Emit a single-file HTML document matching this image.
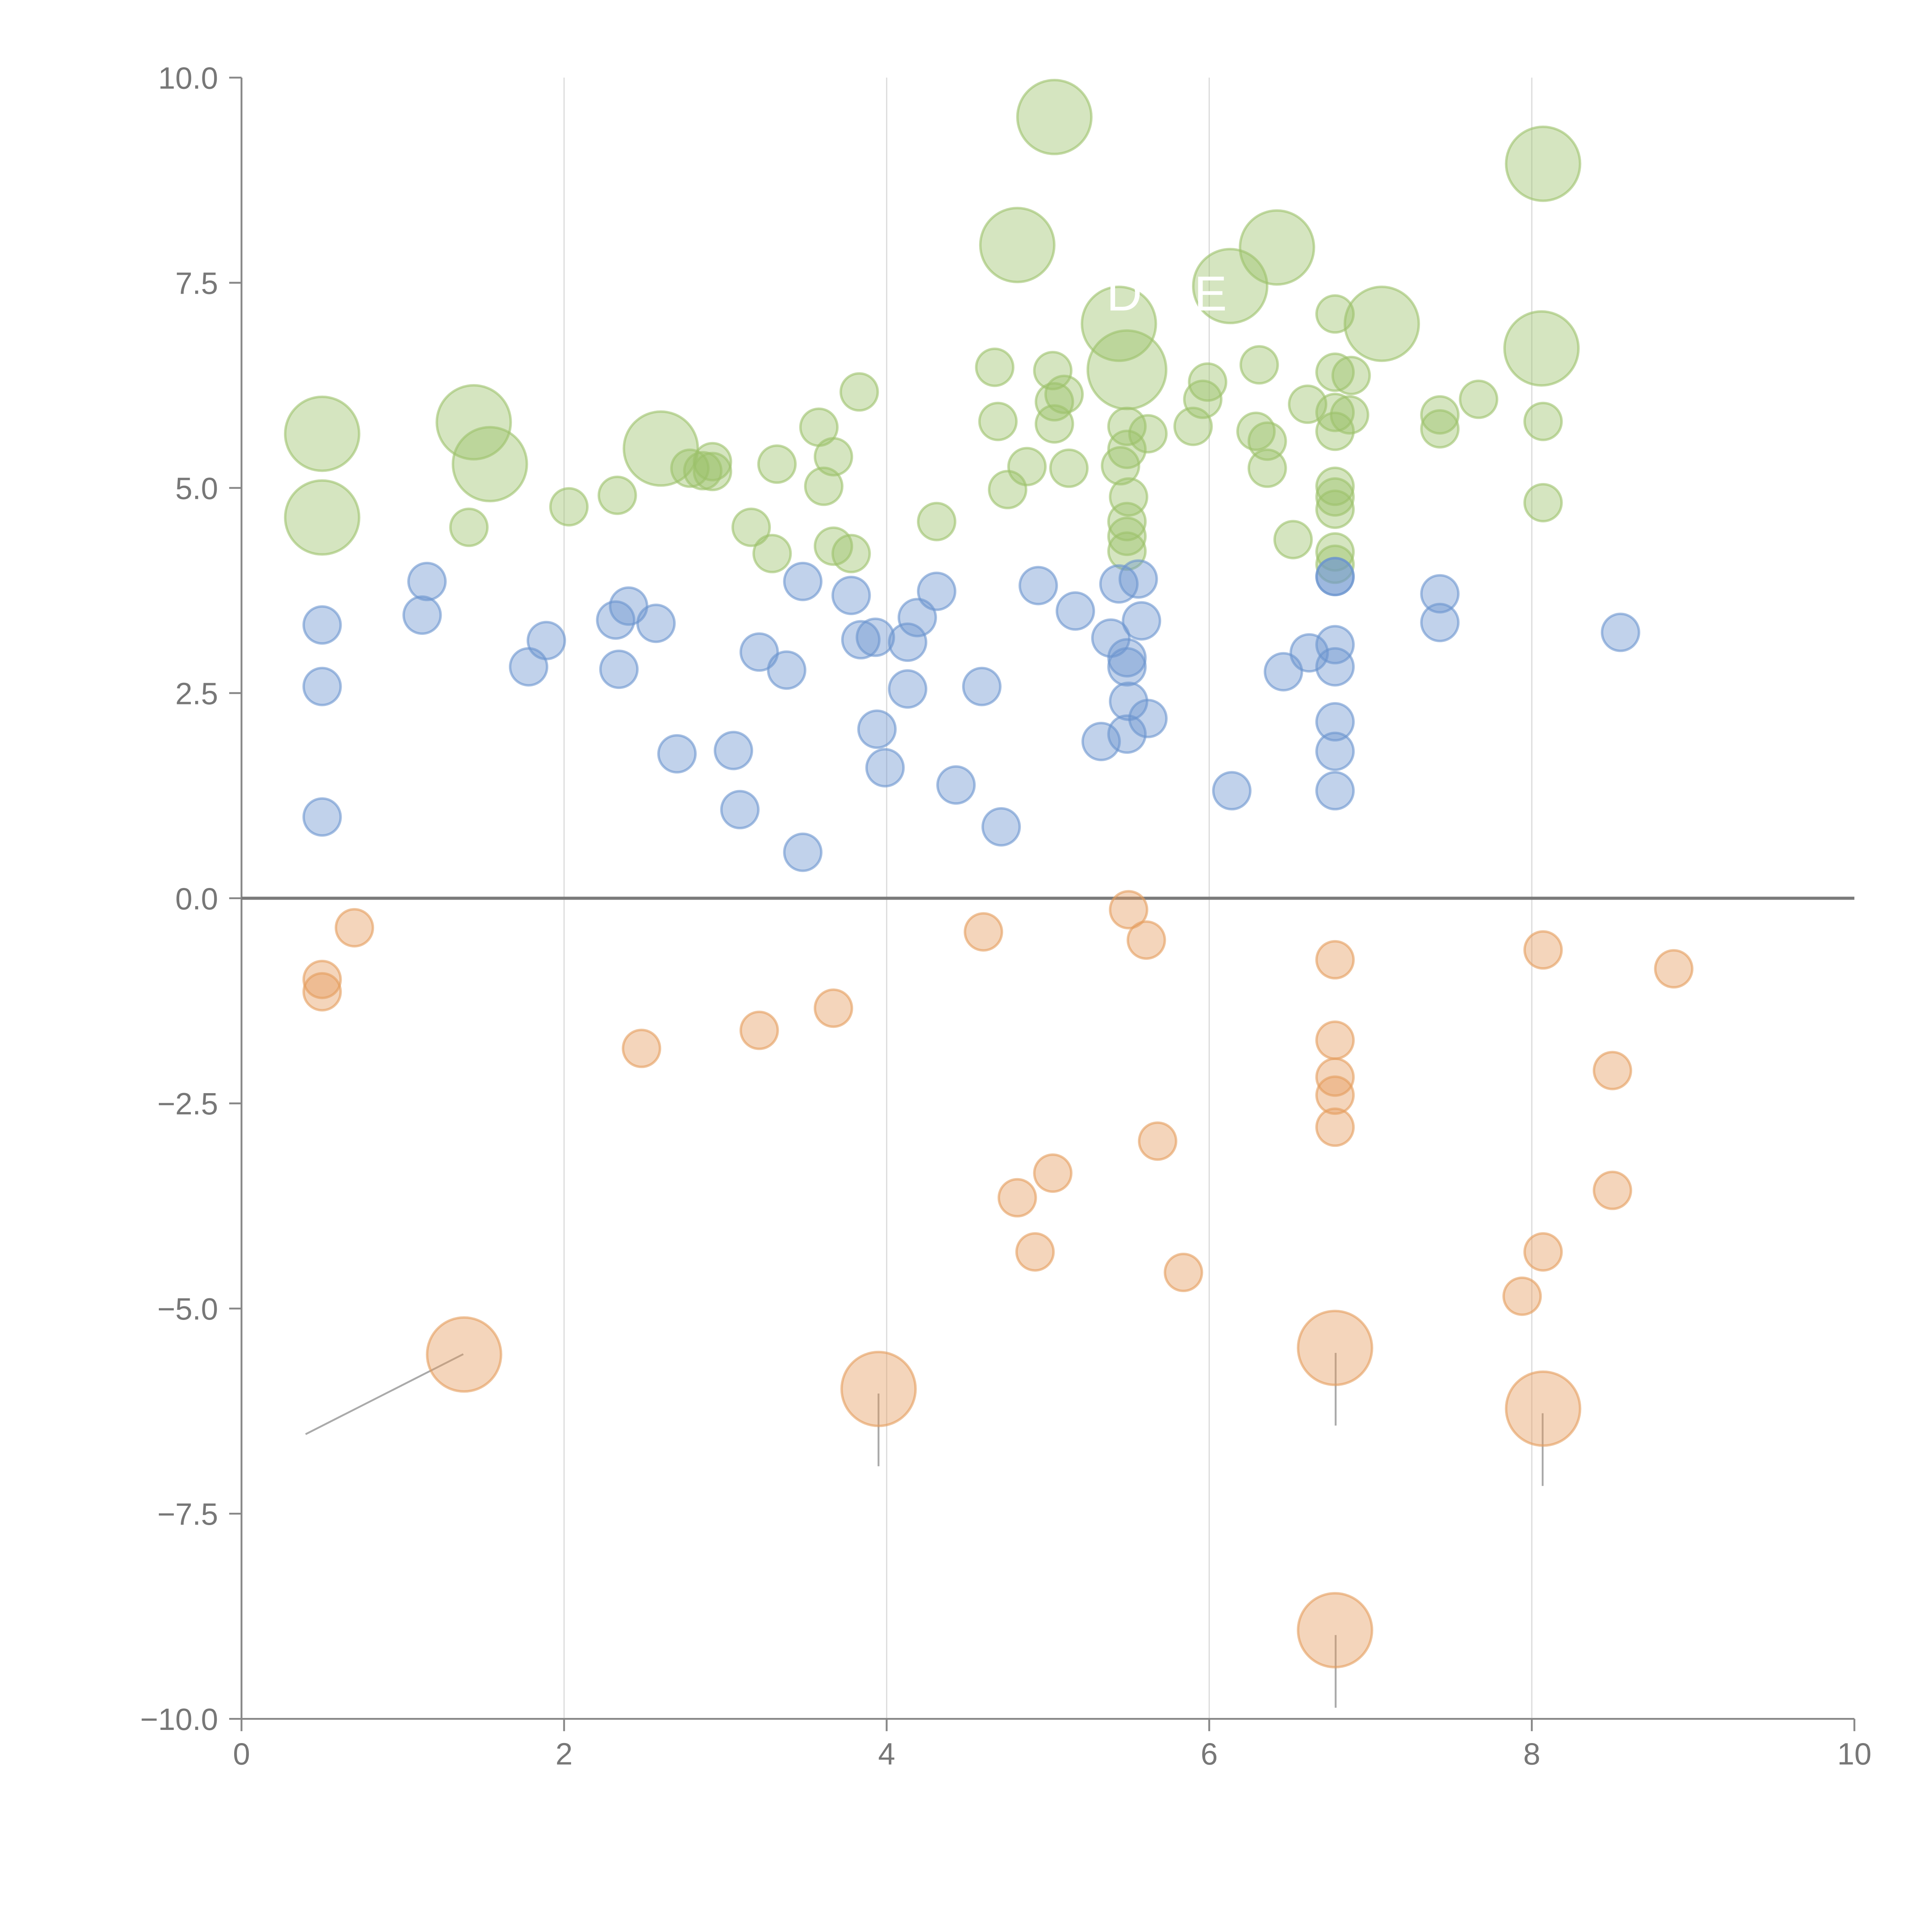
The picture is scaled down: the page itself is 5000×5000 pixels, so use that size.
<!DOCTYPE html>
<html><head><meta charset="utf-8"><style>
html,body{margin:0;padding:0;background:#fff;}
svg{display:block;font-family:"Liberation Sans",sans-serif;}
</style></head><body>
<svg id="chart" width="5000" height="5000" viewBox="0 0 1568 1568" xmlns="http://www.w3.org/2000/svg">
<g id="grid"></g>
<g id="axes"></g>
<g id="leaders"></g>
<g id="marks"></g>
<g id="labels">
<text x="898" y="252" font-size="40" fill="#fff">D  GE</text>
</g>
</svg>
<script>
const greenX=[0.50,0.50,1.44,1.54,1.41,2.03,2.33,2.60,2.78,2.92,2.92,2.86,3.16,3.29,3.32,3.58,3.67,3.61,3.67,3.78,3.83,4.31,4.67,4.69,4.75,4.87,4.81,5.04,5.03,5.04,5.10,5.04,5.13,5.44,5.49,5.49,5.49,5.62,5.45,5.50,5.49,5.49,5.49,6.13,6.42,5.99,5.96,5.90,6.31,6.29,6.36,6.36,6.52,6.61,6.78,6.78,6.78,6.78,6.87,6.88,6.78,6.78,6.78,6.78,6.78,7.07,7.43,7.43,7.67,8.07,8.06,8.07,8.07];
const greenY=[5.66,4.64,5.80,5.29,4.52,4.77,4.91,5.48,5.24,5.32,5.20,5.21,4.52,4.20,5.29,5.74,5.38,5.02,4.29,4.20,6.17,4.59,6.47,5.81,4.98,5.26,7.96,9.52,6.43,6.05,6.14,5.78,5.24,7.00,6.44,5.75,5.47,5.66,5.27,4.89,4.59,4.41,4.23,7.46,7.93,6.29,6.08,5.75,6.50,5.69,5.57,5.24,4.37,6.02,7.12,6.41,5.92,5.69,5.89,6.37,5.02,4.89,4.74,4.22,4.07,7.00,5.89,5.72,6.08,8.95,6.70,5.81,4.82];
const greenS=[4,4,4,4,1,1,1,4,1,1,1,1,1,1,1,1,1,1,1,1,1,1,1,1,1,1,4,4,1,1,1,1,1,4,4.5,1,1,1,1,1,1,1,1,4,4,1,1,1,1,1,1,1,1,1,1,1,1,1,1,1,1,1,1,1,1,4,1,1,1,4,4,1,1];
const blueX=[0.50,0.50,0.50,1.15,1.12,1.78,1.89,2.32,2.40,2.57,2.34,2.70,3.05,3.09,3.21,3.38,3.48,3.48,3.78,3.84,3.93,3.94,3.99,4.13,4.19,4.31,4.13,4.43,4.59,4.71,4.94,5.17,5.33,5.39,5.44,5.56,5.58,5.49,5.49,5.50,5.49,5.62,6.14,6.46,6.62,6.78,6.78,6.78,6.78,6.78,6.78,7.43,7.43,8.55,6.78];
const blueY=[3.33,2.58,0.99,3.86,3.45,2.82,3.14,3.39,3.56,3.35,2.79,1.76,1.80,1.08,3.00,2.78,3.86,0.56,3.69,3.15,3.18,2.06,1.59,3.12,3.42,3.74,2.55,1.38,2.58,0.87,3.81,3.50,1.91,3.17,3.83,3.89,3.38,2.93,2.82,2.40,2.00,2.19,1.31,2.76,2.99,3.92,3.09,2.82,2.15,1.79,1.31,3.71,3.36,3.24,3.92];
const orangeX=[0.70,0.50,0.50,1.38,2.48,3.21,3.67,3.95,4.60,4.81,4.92,5.03,5.50,5.61,5.68,5.84,6.78,6.78,6.78,6.78,6.78,6.78,6.78,7.94,8.07,8.07,8.07,8.50,8.50,8.88];
const orangeY=[-0.36,-0.99,-1.14,-5.56,-1.83,-1.61,-1.34,-5.98,-0.41,-3.65,-4.31,-3.35,-0.14,-0.51,-2.96,-4.56,-0.75,-1.73,-2.18,-2.40,-2.79,-5.48,-8.92,-4.85,-0.63,-4.31,-6.22,-2.10,-3.56,-0.86];
const orangeS=[1,1,1,4,1,1,1,4,1,1,1,1,1,1,1,1,1,1,1,1,1,4,4,1,1,1,4,1,1,1];
const xTicks=[0,2,4,6,8,10];
const yTicks=[10,7.5,5,2.5,0,-2.5,-5,-7.5,-10];
const xGrid=[2,4,6,8];

const NS="http://www.w3.org/2000/svg";
const X0=196,X1=1505,Y0=1395,Y1=63;
function sx(v){return X0+(v-0)/(10-0)*(X1-X0);}
function sy(v){return Y0-(v+10)/20*(Y0-Y1);}
function sr(s){return 15*Math.sqrt(s);}
function mk(tag,parent,attrs){const e=document.createElementNS(NS,tag);for(const k in attrs)e.setAttribute(k,attrs[k]);parent.appendChild(e);return e;}

const grid=document.getElementById('grid');
xGrid.forEach(v=>{
  const l=mk('line',grid,{x1:sx(v),x2:sx(v),y1:Y1,y2:Y0,stroke:'#dcdcdc','stroke-width':1});
  
  
});
const axes=document.getElementById('axes');
let a=mk('line',axes,{x1:X0,x2:X0,y1:Y1,y2:Y0,stroke:'#888','stroke-width':1.5});


a=mk('line',axes,{x1:X0,x2:X1,y1:Y0,y2:Y0,stroke:'#888','stroke-width':1.5});


yTicks.forEach(v=>{
  const t=mk('line',axes,{x1:X0-10,x2:X0,y1:sy(v),y2:sy(v),stroke:'#888','stroke-width':1.5});
  
  
  const tx=mk('text',axes,{x:X0-19,y:sy(v)+9,'text-anchor':'end','font-size':25,fill:'#777'});
  tx.textContent=(v<0?'\u2212':'')+Math.abs(v).toFixed(1);
  
  
});
xTicks.forEach(v=>{
  const t=mk('line',axes,{x1:sx(v),x2:sx(v),y1:Y0,y2:Y0+10,stroke:'#888','stroke-width':1.5});
  
  
  const tx=mk('text',axes,{x:sx(v),y:Y0+37,'text-anchor':'middle','font-size':25,fill:'#777'});
  tx.textContent=String(v);
  
  
});
const marks=document.getElementById('marks');
function series(xs,ys,ss,col,name){
  xs.forEach((x,i)=>{
    const c=mk('circle',marks,{cx:sx(x),cy:sy(ys[i]),r:sr(ss?ss[i]:1),fill:col,'fill-opacity':0.42,stroke:col,'stroke-opacity':0.6,'stroke-width':2});
    
    
  });
}
series(greenX,greenY,greenS,'#9cc16a','bubble-green');
series(blueX,blueY,null,'#6b94cf','bubble-blue');
series(orangeX,orangeY,orangeS,'#e59c5c','bubble-orange');
const zl=mk('line',axes,{x1:X0,x2:X1,y1:sy(0),y2:sy(0),stroke:'#7a7a7a','stroke-width':2.5});


const leaders=document.getElementById('leaders');
[[376,1099,248,1164],[713,1131,713,1190],[1084,1098,1084,1157],[1084,1327,1084,1386],[1252,1147,1252,1206]].forEach(p=>{
  const l=mk('line',leaders,{x1:p[0],y1:p[1],x2:p[2],y2:p[3],stroke:'#aaa','stroke-width':1.5});
  
  
});
</script>
</body></html>
